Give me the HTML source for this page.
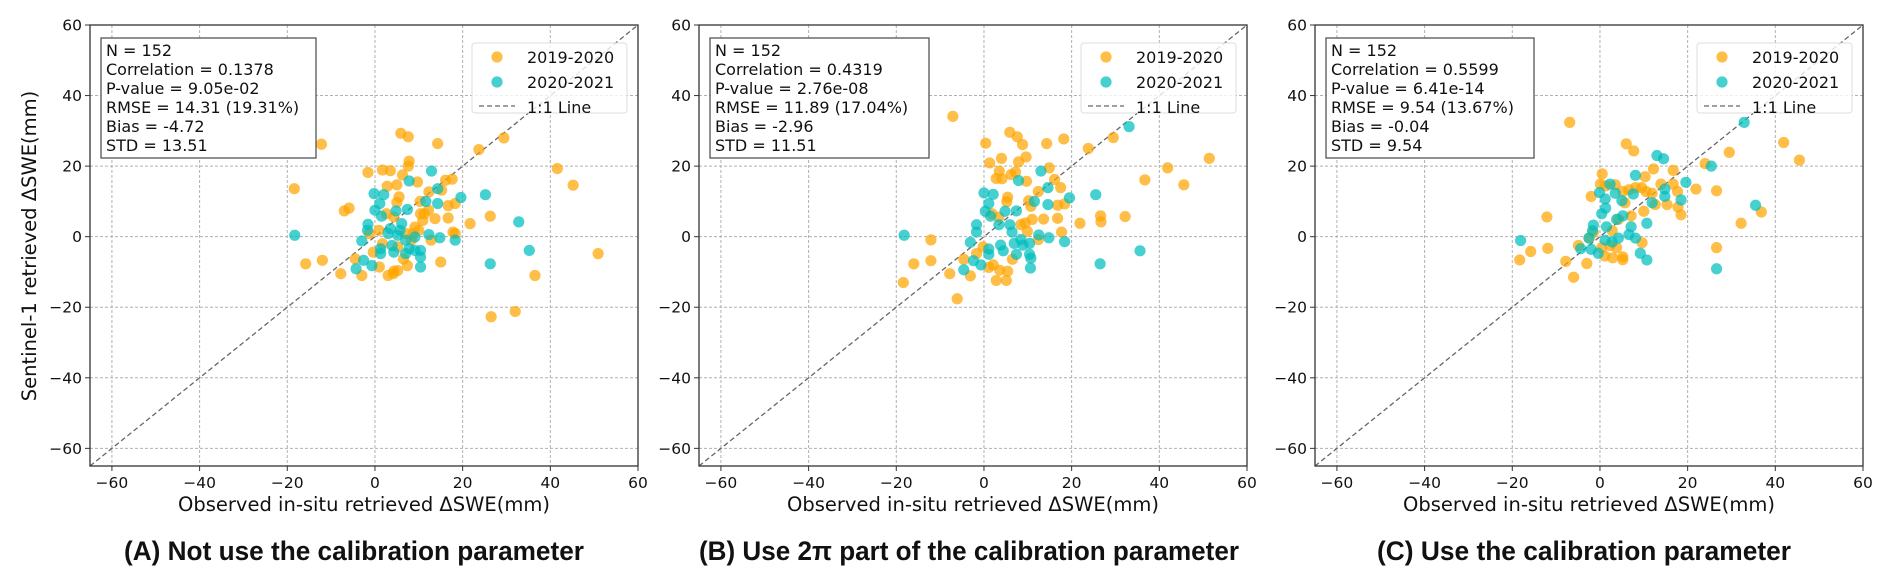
<!DOCTYPE html>
<html><head><meta charset="utf-8"><style>
html,body{margin:0;padding:0;background:#fff;}
svg{display:block;}
text{font-family:"DejaVu Sans","Liberation Sans",sans-serif;fill:#111;}
.cap{font-family:"Liberation Sans","Noto Sans CJK SC",sans-serif;font-weight:bold;font-size:27px;}
</style></head><body>
<svg id="chart" width="1892" height="583" viewBox="0 0 1892 583" xmlns="http://www.w3.org/2000/svg"></svg>
<script>
const ticks=[-60,-40,-20,0,20,40,60];
const tickLabels=["−60","−40","−20","0","20","40","60"];
const seriesNames=["2019-2020","2020-2021"];
const captions=["(A) Not use the calibration parameter","(B) Use 2π part of the calibration parameter","(C) Use the calibration parameter"];
const stats=[
 ["N = 152","Correlation = 0.1378","P-value = 9.05e-02","RMSE = 14.31 (19.31%)","Bias = -4.72","STD = 13.51"],
 ["N = 152","Correlation = 0.4319","P-value = 2.76e-08","RMSE = 11.89 (17.04%)","Bias = -2.96","STD = 11.51"],
 ["N = 152","Correlation = 0.5599","P-value = 6.41e-14","RMSE = 9.54 (13.67%)","Bias = -0.04","STD = 9.54"]];
const aOrange=[[-18.4,13.6],[-15.8,-7.7],[-12.2,26.2],[-12,-6.7],[-7,7.3],[-5.9,8.1],[-7.8,-10.5],[-3,-11],[-4.5,-6.3],[-1.6,18.2],[1.7,18.9],[3.5,18.7],[5.9,29.3],[7.6,28.3],[14.3,26.4],[7.8,21.4],[7.6,20],[6.3,17.5],[2.8,14.3],[5,14.7],[9.7,15.5],[5.5,11.3],[5,9.7],[16.1,16],[17.6,16.3],[23.7,24.7],[29.4,28],[12.3,12.7],[15.2,13.2],[16.7,8.8],[18.3,9.4],[11.3,6.5],[10.9,4.6],[13.7,5.1],[16.7,5.3],[10.3,10],[21.7,3.7],[26.3,5.8],[17.8,1.3],[18.3,0.9],[12.8,-1],[15,-7.2],[7.4,-8.2],[5.2,-9.6],[3,-11],[1,-8.6],[4.3,-9.8],[4.2,-10.5],[6.5,-6.3],[26.5,-22.7],[32,-21.2],[36.5,-11],[41.6,19.3],[45.2,14.6],[50.9,-4.8],[9.1,2.7],[8.7,0.9],[10,1.8],[7,0.9],[8.3,-1],[0.9,1.8],[2.6,6.5],[4.3,5.6],[-1.3,0.9],[-0.4,-4.4],[5.2,-2.9],[12.2,7.5],[10.4,6.5],[1.7,-2]];
const aTeal=[[-18.3,0.4],[12.9,18.6],[7.8,15.8],[-0.2,12.2],[2,11.9],[1.1,9.4],[0,7.5],[1.5,5.8],[4.8,7.3],[7.4,7.7],[14.3,13.6],[11.6,10],[14.3,9.4],[19.6,11.1],[25.2,11.9],[32.8,4.2],[35.2,-3.9],[26.3,-7.7],[18.3,-1],[14.8,-0.3],[12.3,0.6],[10.4,-3.9],[10.4,-5.8],[10.4,-8.6],[-1.6,3.5],[-1.7,1.8],[-3,-1.2],[-2.6,-6.7],[-4.3,-9.1],[-0.7,-8.2],[1.3,-3.4],[1.3,-4.8],[3.9,-2.5],[4.3,-4.4],[6.1,3.7],[5.7,1.8],[7,-1],[7.8,-3.4],[9.1,-3.9],[3.5,2.3],[3,0.9],[5.2,0.4],[7,-4.8],[9.1,-0.1]];
const bOrange=[[-7.1,34.1],[-18.4,-13],[-16,-7.7],[-12.1,-0.9],[-12.1,-6.8],[-7.8,-10.5],[-6.1,-17.6],[-4.6,-6.4],[-3.1,-11.1],[0.4,26.5],[1.3,20.9],[2.8,16.5],[3.5,18.6],[4.1,16.4],[4,22.2],[5.9,29.6],[7.6,28.3],[8.8,26.1],[9.6,22.6],[7.9,21.2],[7.2,18.3],[6.2,17.6],[9.7,15.7],[5.4,11.2],[5.2,9.9],[14.3,26.4],[18.2,27.7],[14.9,19.5],[16.1,16.2],[17.5,13.9],[12.4,12.8],[16.8,8.9],[18.4,9.3],[23.8,25],[29.5,28.1],[21.9,3.8],[26.6,5.9],[26.7,4.2],[32.2,5.7],[36.7,16.1],[41.9,19.5],[45.6,14.7],[51.4,22.2],[13.6,5],[16.8,5.2],[17.7,1.3],[12.4,-0.8],[9.9,1.5],[11,4.9],[2.8,-12.4],[5.1,-12.4],[3.6,-9.5],[5.4,-9.8],[1.1,-8.7],[2.1,-8],[6.5,-6.4],[-1.7,-4.8],[-0.2,-2.9],[8.4,3.4],[9.4,3.9],[1.8,6.5],[3.4,5.5],[10.7,8.6],[10.2,10.2]];
const bTeal=[[-18.2,0.4],[33.1,31.2],[13,18.6],[7.9,15.9],[14.6,13.9],[19.5,11],[11.5,10],[25.5,11.9],[14.6,9.1],[0,12.4],[2.1,12],[1.1,9.4],[4.8,7.2],[7.4,7.3],[1.5,5.8],[0.3,7.2],[35.6,-4],[26.5,-7.7],[10.6,-8.9],[18.4,-1.4],[14.8,-0.3],[12.5,0.5],[-1.7,3.4],[-1.7,1.3],[-3.1,-1.6],[-2.4,-6.8],[-4.6,-9.4],[-0.7,-8],[1.1,-5],[1.1,-3.5],[3.8,-2.4],[4.4,-4],[5.9,3.4],[6.4,1.3],[6.9,-1.9],[7.4,-5],[8.9,-2.4],[10.4,-1.9],[10.4,-5],[10.7,-6.1],[8.4,-0.8],[3.4,3.4]];
const cOrange=[[-6.9,32.4],[-18.3,-6.6],[-15.8,-4.2],[-12.1,5.6],[-11.9,-3.3],[-7.8,-7],[-6,-11.5],[-3,-7.6],[6,26.3],[7.7,24.3],[0.5,17.8],[-2,11.4],[0.1,14.9],[1.3,14.4],[3.5,14.7],[5.2,12.8],[6.6,13.3],[8.1,13.9],[9.5,13.9],[10.5,12.8],[11.9,12.3],[13.9,14.9],[16.7,14.9],[17.7,12.8],[12.2,19.2],[10.3,17],[16.7,18.8],[15.3,9.1],[12.6,9.1],[10,7.2],[17.8,8.4],[18.5,6.2],[21.9,13.5],[24,20.7],[29.5,23.9],[26.6,13],[26.6,-3.1],[32.2,3.8],[36.8,7],[41.9,26.7],[45.5,21.7],[0.4,-3.1],[2.3,-2.5],[1.1,-5.5],[2.9,-6],[5.2,-6.5],[3.8,-3.1],[9.6,-1.7],[5.2,-5.7],[-4.9,-2.5],[-2.5,-0.4],[-1.5,1.2],[2.8,1.7],[4.2,4.9],[7.1,5.9],[5.7,9.6]];
const cTeal=[[-18.1,-1.1],[32.9,32.4],[25.4,20],[13,23],[14.5,22.1],[19.6,15.4],[18.5,10.4],[14.8,11.4],[11.9,9.6],[8.1,17.4],[2.3,14.9],[-0.1,12.5],[1.2,10.7],[3.5,12.3],[5,10.2],[7.6,12.1],[10.7,3.8],[14.8,13.5],[35.5,8.9],[26.6,-9.1],[10.7,-6.6],[9.2,-4.7],[-1.5,3.3],[-1.7,1.7],[-2.5,-0.4],[-4.4,-3.4],[-0.4,-4.7],[1.2,-1],[2.8,-1.5],[4.2,-0.4],[6.6,0.6],[8.1,-0.4],[7.1,2.8],[5.2,5.9],[0.4,6.5],[1.3,8.1],[3.8,4.9],[1.5,2.8],[-2,-3.6]];

const NS="http://www.w3.org/2000/svg";
const svg=document.getElementById('chart');
function mk(tag,attrs,parent){const e=document.createElementNS(NS,tag);for(const k in attrs)e.setAttribute(k,attrs[k]);(parent||svg).appendChild(e);return e;}
const panels=[{left:90,key:"a",o:aOrange,t:aTeal,bw:215,cx:354,cw:460},{left:699,key:"b",o:bOrange,t:bTeal,bw:219,cx:969,cw:540},{left:1315,key:"c",o:cOrange,t:cTeal,bw:208,cx:1584,cw:414}];
const W=548,TOP=25,BOT=466,MIN=-65,MAX=60;
panels.forEach((p,i)=>{
  const g=mk('g',{});
  
  
  const sx=v=>p.left+(v-MIN)/(MAX-MIN)*W;
  const sy=v=>BOT-(v-MIN)/(MAX-MIN)*(BOT-TOP);
  ticks.forEach((t,j)=>{
    const gx=mk('line',{x1:sx(t),x2:sx(t),y1:TOP,y2:BOT,stroke:'#b0b0b0','stroke-width':1,'stroke-dasharray':'3,2'},g);
    
    
    const gy=mk('line',{x1:p.left,x2:p.left+W,y1:sy(t),y2:sy(t),stroke:'#b0b0b0','stroke-width':1,'stroke-dasharray':'3,2'},g);
    
    
    mk('line',{x1:sx(t),x2:sx(t),y1:BOT,y2:BOT+5,stroke:'#333'},g);
    mk('line',{x1:p.left-5,x2:p.left,y1:sy(t),y2:sy(t),stroke:'#333'},g);
    const xl=mk('text',{x:sx(t),y:BOT+22,'text-anchor':'middle','font-size':'15.5px'},g);xl.textContent=tickLabels[j];
    
    
    const yl=mk('text',{x:p.left-8,y:sy(t)+5.5,'text-anchor':'end','font-size':'15.5px'},g);yl.textContent=tickLabels[j];
    
    
  });
  const d=mk('line',{x1:sx(MIN),y1:sy(MIN),x2:sx(MAX),y2:sy(MAX),stroke:'#666','stroke-width':1.3,'stroke-dasharray':'5,3'},g);
  
  
  [[p.o,'rgba(255,165,0,0.72)','point-2019-2020'],[p.t,'rgba(0,190,190,0.72)','point-2020-2021']].forEach(([arr,col,nm])=>{
    arr.forEach(pt=>{
      const c=mk('circle',{cx:sx(pt[0]),cy:sy(pt[1]),r:5.6,fill:col},g);
      
      
    });
  });
  const fr=mk('rect',{x:p.left,y:TOP,width:W,height:BOT-TOP,fill:'none',stroke:'#333','stroke-width':1.3},g);
  
  
  const sb=mk('g',{},g);
  
  
  mk('rect',{x:p.left+11,y:38,width:p.bw,height:120,fill:'#fff',stroke:'#555','stroke-width':1.3},sb);
  stats[i].forEach((s,k)=>{const t=mk('text',{x:p.left+16,y:56+k*19,'font-size':'16px'},sb);t.textContent=s;});
  const R=p.left+W-11;
  const lg=mk('g',{},g);
  
  
  mk('rect',{x:R-155,y:43,width:155,height:70,rx:3,fill:'rgba(255,255,255,0.8)',stroke:'#ddd'},lg);
  mk('circle',{cx:R-130,cy:57,r:5.6,fill:'rgba(255,165,0,0.72)'},lg);
  mk('circle',{cx:R-130,cy:82,r:5.6,fill:'rgba(0,190,190,0.72)'},lg);
  mk('line',{x1:R-148,x2:R-112,y1:106,y2:106,stroke:'#666','stroke-width':1.3,'stroke-dasharray':'5,3'},lg);
  [seriesNames[0],seriesNames[1],"1:1 Line"].forEach((s,k)=>{const t=mk('text',{x:R-100,y:63+k*25,'font-size':'16px'},lg);t.textContent=s;});
  const xt=mk('text',{x:p.left+W/2,y:511,'text-anchor':'middle','font-size':'19.5px'},g);xt.textContent="Observed in-situ retrieved ΔSWE(mm)";
  
  
  const cp=mk('text',{x:p.cx-p.cw/2,y:560,'class':'cap',textLength:p.cw,lengthAdjust:'spacingAndGlyphs'},g);cp.textContent=captions[i];
  
  
});
const yt=mk('text',{x:0,y:0,'text-anchor':'middle','font-size':'19.5px',transform:'translate(36,246) rotate(-90)'});
yt.textContent="Sentinel-1 retrieved ΔSWE(mm)";


</script>
</body></html>
